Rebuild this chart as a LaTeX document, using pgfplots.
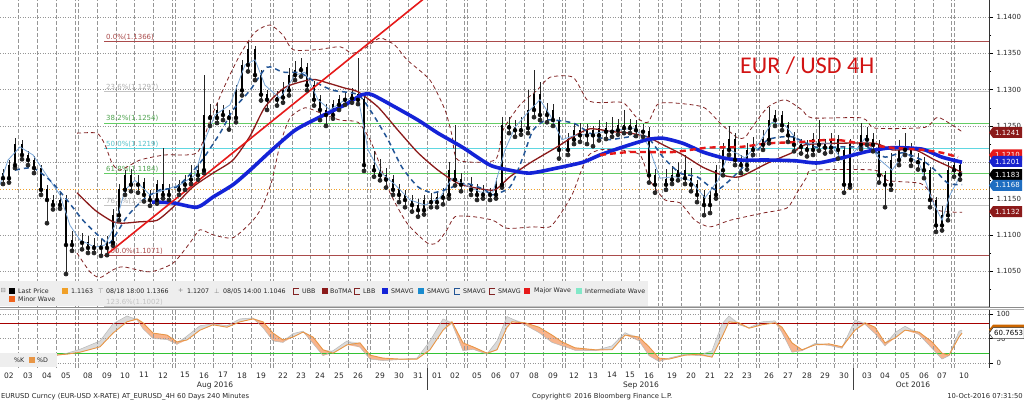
\documentclass[border=0pt]{standalone}
\usepackage{pgfplots}
\pgfplotsset{compat=1.18}
\usepackage{pgfplotstable}
\usepackage{fontspec}
\setmainfont{DejaVu Sans}
\newfontfamily\titlefont{Carlito}

\definecolor{bbdarkred}{RGB}{139,26,26}
\definecolor{bbband}{RGB}{130,35,35}
\definecolor{bbblue}{RGB}{20,35,215}
\definecolor{bbdashblue}{RGB}{35,85,150}
\definecolor{bbthin}{RGB}{120,165,215}
\definecolor{bbred}{RGB}{230,25,25}
\definecolor{fibred}{RGB}{170,75,75}
\definecolor{fibgray}{RGB}{195,195,195}
\definecolor{fibgreen}{RGB}{100,205,100}
\definecolor{fibcyan}{RGB}{95,215,225}
\definecolor{lastorange}{RGB}{240,160,40}
\definecolor{stochD}{RGB}{232,150,70}
\definecolor{stochK}{RGB}{185,185,185}
\definecolor{stochfill}{RGB}{248,180,140}
\definecolor{stochgray}{RGB}{218,218,218}
\definecolor{legbg}{RGB}{238,238,238}
\definecolor{gridgray}{RGB}{150,150,150}
\definecolor{lblblue}{RGB}{31,110,193}
\definecolor{tagblue}{RGB}{25,35,205}
\definecolor{titlered}{RGB}{210,20,20}
\definecolor{mint}{RGB}{130,232,200}
\definecolor{minororange}{RGB}{240,100,30}

% ---------------- data ----------------
\pgfplotstableread{
x o h l c
3 1.1185 1.1190 1.1170 1.1178
9 1.1178 1.1203 1.1172 1.1196
15 1.1196 1.1233 1.1192 1.1224
22 1.1224 1.1230 1.1204 1.1210
28 1.1210 1.1215 1.1196 1.1203
34 1.1203 1.1208 1.1185 1.1192
41 1.1192 1.1196 1.1155 1.1162
47 1.1162 1.1168 1.1116 1.1148
53 1.1148 1.1155 1.1135 1.1141
60 1.1141 1.1158 1.1136 1.1148
66 1.1148 1.1155 1.1046 1.1086
72 1.1086 1.1105 1.1078 1.1093
82 1.1093 1.1103 1.1080 1.1089
88 1.1089 1.1098 1.1075 1.1082
94 1.1082 1.1096 1.1075 1.1086
101 1.1086 1.1094 1.1071 1.1082
107 1.1082 1.1098 1.1072 1.1089
113 1.1089 1.1135 1.1085 1.1127
119 1.1127 1.1170 1.1120 1.1162
125 1.1162 1.1189 1.1155 1.1182
131 1.1182 1.1190 1.1160 1.1169
138 1.1169 1.1182 1.1158 1.1172
144 1.1172 1.1178 1.1146 1.1155
150 1.1155 1.1162 1.1140 1.1148
157 1.1148 1.1176 1.1143 1.1169
163 1.1169 1.1220 1.1150 1.1155
169 1.1155 1.1170 1.1148 1.1162
179 1.1162 1.1176 1.1155 1.1169
185 1.1169 1.1183 1.1162 1.1176
191 1.1176 1.1196 1.1170 1.1182
198 1.1182 1.1200 1.1176 1.1189
204 1.1189 1.1320 1.1185 1.1265
210 1.1265 1.1280 1.1250 1.1261
217 1.1261 1.1282 1.1254 1.1272
223 1.1272 1.1279 1.1258 1.1265
229 1.1265 1.1272 1.1245 1.1261
236 1.1261 1.1306 1.1255 1.1299
242 1.1299 1.1341 1.1292 1.1334
248 1.1334 1.1366 1.1325 1.1355
255 1.1355 1.1360 1.1313 1.1320
261 1.1320 1.1327 1.1285 1.1293
267 1.1293 1.1300 1.1272 1.1286
277 1.1286 1.1298 1.1278 1.1289
283 1.1289 1.1310 1.1282 1.1299
289 1.1299 1.1330 1.1292 1.1320
295 1.1320 1.1340 1.1313 1.1327
301 1.1327 1.1343 1.1318 1.1330
307 1.1330 1.1337 1.1299 1.1306
314 1.1306 1.1312 1.1278 1.1286
320 1.1286 1.1292 1.1258 1.1272
326 1.1272 1.1280 1.1250 1.1265
333 1.1265 1.1286 1.1260 1.1279
339 1.1279 1.1293 1.1272 1.1286
345 1.1286 1.1297 1.1279 1.1288
352 1.1288 1.1302 1.1282 1.1293
358 1.1293 1.1343 1.1280 1.1286
364 1.1286 1.1290 1.1188 1.1196
374 1.1196 1.1215 1.1180 1.1189
380 1.1189 1.1205 1.1175 1.1182
386 1.1182 1.1192 1.1165 1.1176
393 1.1176 1.1183 1.1155 1.1162
399 1.1162 1.1170 1.1145 1.1155
405 1.1155 1.1162 1.1138 1.1148
412 1.1148 1.1155 1.1132 1.1141
418 1.1141 1.1150 1.1125 1.1134
424 1.1134 1.1155 1.1128 1.1148
431 1.1148 1.1158 1.1138 1.1145
437 1.1145 1.1160 1.1138 1.1151
443 1.1151 1.1165 1.1142 1.1155
449 1.1155 1.1200 1.1150 1.1189
455 1.1189 1.1251 1.1168 1.1176
461 1.1176 1.1185 1.1160 1.1169
471 1.1169 1.1180 1.1155 1.1162
477 1.1162 1.1170 1.1148 1.1155
483 1.1155 1.1168 1.1150 1.1159
490 1.1159 1.1165 1.1148 1.1155
496 1.1155 1.1178 1.1150 1.1169
502 1.1169 1.1262 1.1165 1.1251
509 1.1251 1.1262 1.1240 1.1248
515 1.1248 1.1258 1.1235 1.1244
521 1.1244 1.1262 1.1238 1.1247
528 1.1247 1.1300 1.1240 1.1272
534 1.1272 1.1327 1.1262 1.1293
540 1.1293 1.1310 1.1258 1.1265
547 1.1265 1.1282 1.1255 1.1272
553 1.1272 1.1280 1.1250 1.1258
559 1.1258 1.1262 1.1205 1.1217
568 1.1217 1.1240 1.1210 1.1231
574 1.1231 1.1252 1.1225 1.1244
580 1.1244 1.1254 1.1228 1.1237
587 1.1237 1.1252 1.1225 1.1244
593 1.1244 1.1250 1.1222 1.1237
599 1.1237 1.1258 1.1230 1.1247
606 1.1247 1.1255 1.1232 1.1242
612 1.1242 1.1262 1.1235 1.1244
618 1.1244 1.1260 1.1238 1.1251
624 1.1251 1.1272 1.1240 1.1247
630 1.1247 1.1260 1.1240 1.1251
636 1.1251 1.1258 1.1236 1.1244
643 1.1244 1.1252 1.1235 1.1242
649 1.1242 1.1248 1.1172 1.1182
655 1.1182 1.1190 1.1158 1.1169
666 1.1169 1.1190 1.1162 1.1176
672 1.1176 1.1195 1.1170 1.1182
678 1.1182 1.1200 1.1175 1.1189
685 1.1189 1.1210 1.1170 1.1178
691 1.1178 1.1192 1.1160 1.1169
697 1.1169 1.1175 1.1145 1.1155
704 1.1155 1.1162 1.1127 1.1141
710 1.1141 1.1162 1.1130 1.1155
716 1.1155 1.1196 1.1150 1.1189
723 1.1189 1.1226 1.1182 1.1217
729 1.1217 1.1250 1.1210 1.1231
735 1.1231 1.1240 1.1196 1.1203
741 1.1203 1.1210 1.1185 1.1196
747 1.1196 1.1226 1.1190 1.1217
753 1.1217 1.1235 1.1210 1.1224
763 1.1224 1.1245 1.1217 1.1231
769 1.1231 1.1276 1.1226 1.1258
775 1.1258 1.1272 1.1250 1.1265
782 1.1265 1.1270 1.1244 1.1251
788 1.1251 1.1256 1.1228 1.1237
794 1.1237 1.1242 1.1215 1.1224
801 1.1224 1.1232 1.1212 1.1221
807 1.1221 1.1230 1.1208 1.1217
813 1.1217 1.1240 1.1210 1.1231
819 1.1231 1.1258 1.1216 1.1224
825 1.1224 1.1232 1.1212 1.1220
831 1.1220 1.1240 1.1214 1.1231
838 1.1231 1.1238 1.1205 1.1217
844 1.1217 1.1222 1.1158 1.1169
850 1.1169 1.1232 1.1165 1.1224
861 1.1224 1.1254 1.1218 1.1237
867 1.1237 1.1248 1.1224 1.1231
873 1.1231 1.1240 1.1215 1.1224
879 1.1224 1.1230 1.1172 1.1182
885 1.1182 1.1188 1.1138 1.1169
891 1.1169 1.1212 1.1162 1.1203
899 1.1203 1.1230 1.1196 1.1217
905 1.1217 1.1240 1.1210 1.1220
911 1.1220 1.1226 1.1195 1.1203
918 1.1203 1.1212 1.1190 1.1200
924 1.1200 1.1207 1.1178 1.1189
930 1.1189 1.1194 1.1138 1.1148
936 1.1148 1.1152 1.1104 1.1113
942 1.1113 1.1140 1.1106 1.1127
948 1.1127 1.1200 1.1120 1.1189
954 1.1189 1.1206 1.1180 1.1196
960 1.1196 1.1203 1.1176 1.1183
}\candles

\pgfplotstableread{
x y
0 1.1169
8 1.1203
20 1.1221
33 1.1210
50 1.1175
60 1.1155
70 1.1113
80 1.1093
95 1.1083
105 1.1086
115 1.1113
125 1.1162
135 1.1175
150 1.1155
165 1.1162
180 1.1169
195 1.1182
205 1.1231
215 1.1265
230 1.1279
245 1.1334
255 1.1341
265 1.1306
280 1.1288
295 1.1320
305 1.1324
318 1.1286
330 1.1272
345 1.1286
358 1.1290
368 1.1217
380 1.1187
395 1.1169
410 1.1148
425 1.1141
440 1.1151
452 1.1178
465 1.1169
480 1.1159
493 1.1159
505 1.1217
515 1.1248
530 1.1272
540 1.1286
550 1.1265
562 1.1231
575 1.1237
595 1.1240
615 1.1244
635 1.1247
648 1.1224
660 1.1178
675 1.1180
690 1.1175
705 1.1151
718 1.1175
730 1.1217
745 1.1206
760 1.1228
772 1.1255
785 1.1251
800 1.1226
815 1.1226
830 1.1226
842 1.1203
852 1.1210
865 1.1233
880 1.1203
892 1.1189
905 1.1214
920 1.1196
932 1.1148
942 1.1120
950 1.1155
962 1.1186
}\smathin

\pgfplotstableread{
x y
15 1.1189
33 1.1192
50 1.1175
67 1.1148
83 1.1120
100 1.1097
110 1.1089
127 1.1125
143 1.1148
160 1.1162
177 1.1166
200 1.1199
220 1.1240
233 1.1272
250 1.1299
267 1.1331
283 1.1324
300 1.1323
317 1.1309
333 1.1299
358 1.1293
372 1.1268
388 1.1231
402 1.1193
418 1.1166
432 1.1158
445 1.1162
465 1.1171
485 1.1162
492 1.1155
510 1.1166
523 1.1207
533 1.1244
547 1.1258
573 1.1254
590 1.1240
607 1.1231
630 1.1235
647 1.1235
663 1.1207
680 1.1185
697 1.1180
717 1.1162
740 1.1189
752 1.1207
768 1.1231
792 1.1235
815 1.1221
842 1.1221
868 1.1220
885 1.1207
902 1.1213
922 1.1203
935 1.1189
948 1.1171
962 1.1169
}\smadash

\pgfplotstableread{
x y
152 1.1145
173 1.1144
197 1.1138
213 1.1152
233 1.1169
250 1.1189
272 1.1217
295 1.1244
318 1.1261
345 1.1279
362 1.1293
372 1.1293
395 1.1276
418 1.1258
438 1.1240
462 1.1221
490 1.1196
510 1.1189
530 1.1185
557 1.1192
583 1.1200
600 1.1210
623 1.1221
647 1.1231
663 1.1233
683 1.1226
703 1.1214
723 1.1206
740 1.1203
768 1.1203
795 1.1202
818 1.1199
845 1.1207
868 1.1215
892 1.1220
922 1.1218
942 1.1207
962 1.1200
}\smathick

\pgfplotstableread{
x y
77 1.1158
95 1.1134
113 1.1118
123 1.1116
140 1.1118
157 1.1120
173 1.1138
193 1.1166
213 1.1185
233 1.1203
250 1.1236
265 1.1276
285 1.1303
312 1.1314
328 1.1309
345 1.1302
358 1.1297
378 1.1276
398 1.1244
418 1.1213
438 1.1189
458 1.1171
478 1.1164
495 1.1162
510 1.1180
530 1.1199
557 1.1221
573 1.1235
590 1.1246
613 1.1242
630 1.1240
647 1.1235
663 1.1224
683 1.1210
703 1.1193
723 1.1182
740 1.1180
768 1.1199
792 1.1213
805 1.1224
835 1.1226
875 1.1226
892 1.1217
915 1.1217
935 1.1203
962 1.1186
}\botma

\pgfplotstableread{
x y
77 1.1240
97 1.1240
105 1.1224
112 1.1199
120 1.1189
140 1.1203
165 1.1210
197 1.1213
210 1.1258
225 1.1306
240 1.1348
255 1.1379
270 1.1389
283 1.1375
293 1.1355
317 1.1355
340 1.1359
352 1.1350
365 1.1357
380 1.1371
395 1.1361
407 1.1341
430 1.1313
445 1.1272
452 1.1237
458 1.1203
495 1.1203
503 1.1244
520 1.1279
537 1.1299
550 1.1317
573 1.1317
587 1.1286
600 1.1282
623 1.1282
637 1.1261
648 1.1255
657 1.1279
670 1.1282
703 1.1276
720 1.1254
737 1.1234
745 1.1234
752 1.1248
768 1.1276
785 1.1286
802 1.1272
812 1.1261
862 1.1261
875 1.1247
925 1.1248
938 1.1262
962 1.1242
}\ubb

\pgfplotstableread{
x y
77 1.1075
90 1.1049
100 1.1041
112 1.1051
123 1.1056
150 1.1049
173 1.1061
190 1.1089
200 1.1107
213 1.1100
233 1.1096
253 1.1120
263 1.1141
272 1.1175
280 1.1224
290 1.1261
305 1.1275
320 1.1268
340 1.1258
358 1.1255
370 1.1231
380 1.1196
390 1.1158
407 1.1116
427 1.1089
437 1.1089
447 1.1107
455 1.1125
473 1.1125
493 1.1120
507 1.1109
533 1.1111
550 1.1111
563 1.1134
573 1.1158
587 1.1207
600 1.1217
620 1.1217
640 1.1210
650 1.1175
665 1.1148
680 1.1144
695 1.1120
710 1.1111
730 1.1120
763 1.1130
787 1.1137
797 1.1158
807 1.1180
813 1.1189
875 1.1189
887 1.1175
920 1.1171
930 1.1158
938 1.1134
962 1.1131
}\lbb

\pgfplotstableread{
x y
600 1.1210
630 1.1214
673 1.1214
707 1.1220
740 1.1221
768 1.1226
802 1.1228
835 1.1231
868 1.1224
892 1.1220
922 1.1217
942 1.1213
958 1.1207
}\smared

% stochastic: K, D, lower of the two (M), D above K (A), K above D (B)
\pgfplotstableread{
x K D M A B
53 14 16 14 2 0
67 20 18 18 0 2
80 28 22 22 0 6
100 45 33 33 0 12
113 80 61 61 0 19
127 96 84 84 0 12
137 88 90 88 2 0
143 70 82 70 12 0
153 50 61 50 11 0
167 48 57 48 9 0
177 38 43 38 5 0
187 55 47 47 0 8
200 76 67 67 0 9
213 80 78 78 0 2
227 76 73 73 0 3
240 90 84 84 0 6
253 92 90 90 0 2
263 72 84 72 12 0
273 45 61 45 16 0
283 42 47 42 5 0
293 60 53 53 0 7
303 65 63 63 0 2
313 40 53 40 13 0
323 15 27 15 12 0
333 25 20 20 0 5
347 45 37 37 0 8
360 32 41 32 9 0
370 8 16 8 8 0
383 5 10 5 5 0
400 7 8 7 1 0
417 10 8 8 0 2
430 45 27 27 0 18
443 90 67 67 0 23
452 80 84 80 4 0
463 25 41 25 16 0
473 28 33 28 5 0
487 18 20 18 2 0
497 45 27 27 0 18
507 95 73 73 0 22
512 90 84 84 0 6
525 78 82 78 4 0
539 62 73 62 11 0
552 42 57 42 15 0
562 35 43 35 8 0
575 26 31 26 5 0
595 25 27 25 2 0
612 35 27 27 0 8
625 62 57 57 0 5
639 45 53 45 8 0
649 15 33 15 18 0
659 3 10 3 7 0
669 10 8 8 0 2
685 18 16 16 0 2
699 15 18 15 3 0
712 25 12 12 0 13
722 80 53 53 0 27
729 96 84 84 0 12
739 78 82 78 4 0
749 72 71 71 0 1
762 84 78 78 0 6
775 86 82 82 0 4
782 62 73 62 11 0
792 22 41 22 19 0
802 25 27 25 2 0
815 40 37 37 0 3
829 36 39 36 3 0
842 30 33 30 3 0
855 88 67 67 0 21
865 79 82 79 3 0
875 60 73 60 13 0
885 35 41 35 6 0
895 62 51 51 0 11
905 75 67 67 0 8
919 58 63 58 5 0
932 30 43 30 13 0
942 8 20 8 12 0
949 15 16 15 1 0
959 65 53 53 0 12
962 67 61 61 0 6
}\stoch

\newcommand{\pricetag}[4]{%
  \fill[#2] (#1) -- ++(4,5.5) -- ++(29,0) -- ++(0,-11) -- ++(-29,0) -- cycle;
  \node[anchor=west, inner sep=0pt, text=#3, font=\fontsize{7}{8}\selectfont] at ([xshift=6pt]#1) {#4};}

\begin{document}
\begin{tikzpicture}[x=1pt,y=1pt]
\useasboundingbox (0,0) rectangle (1024,401);
\fill[white] (0,0) rectangle (1024,401);

% ================= main price panel =================
\begin{axis}[
  at={(0pt,94pt)}, anchor=south west, scale only axis,
  width=989pt, height=307pt,
  xmin=0, xmax=989, ymin=1.10006, ymax=1.14234,
  axis y line*=right, axis x line*=bottom,
  x axis line style={draw=none},
  y axis line style={black!80, line width=0.6pt},
  xtick={18.5,37.5,56.5,75.5,78.5,97.5,116,134.5,153.5,172.5,175.5,194.5,213.5,232.5,251.5,270.5,273.5,292,310.5,329.5,348.5,367.5,370.5,389.5,408.5,427.5,446,464.5,467.5,486.5,505.5,524.5,543.5,562.5,565.5,583.5,602.5,621,639.5,658.5,662.5,681.5,700.5,719.5,738,756.5,759.5,778.5,797.5,816,834.5,853.5,857.5,876,895,914.5,933,951.5,954.5},
  xticklabels={},
  xmajorgrids,
  major x tick style={draw=none},
  x grid style={gridgray, line width=0.5pt, dash pattern=on 3.5pt off 2.5pt},
  ytick={1.105,1.11,1.115,1.12,1.125,1.13,1.135,1.14},
  yticklabels={1.1050,1.1100,1.1150,1.1200,1.1250,1.1300,1.1350,1.1400},
  minor ytick={1.1025,1.1075,1.1125,1.1175,1.1225,1.1275,1.1325,1.1375},
  ymajorgrids,
  y grid style={gridgray, line width=0.5pt, dotted},
  tick align=outside, major tick length=4pt, minor tick length=2pt,
  ytick style={black, line width=0.5pt},
  yticklabel style={font=\fontsize{7}{8}\selectfont, text=black!85},
]
% Fibonacci levels
\addplot[fibred, line width=0.8pt] coordinates {(104,1.1366) (989,1.1366)};
\addplot[fibgray, line width=0.8pt] coordinates {(104,1.1297) (989,1.1297)};
\addplot[fibgreen, line width=0.8pt] coordinates {(104,1.1254) (989,1.1254)};
\addplot[fibcyan, line width=1.0pt] coordinates {(104,1.1219) (989,1.1219)};
\addplot[fibgreen, line width=0.8pt] coordinates {(104,1.1184) (989,1.1184)};
\addplot[fibgray, line width=0.8pt] coordinates {(104,1.1140) (989,1.1140)};
\addplot[fibred, line width=0.8pt] coordinates {(104,1.1071) (989,1.1071)};
\addplot[fibgray, line width=0.8pt] coordinates {(104,1.1002) (989,1.1002)};
\addplot[lastorange, line width=0.9pt, dotted] coordinates {(0,1.1163) (989,1.1163)};

\node[anchor=south west, inner sep=1pt, text=fibred, font=\fontsize{7}{8}\selectfont] at (axis cs:105,1.1366) {0.0\%(1.1366)};
\node[anchor=south west, inner sep=1pt, text=fibgray!90!black, font=\fontsize{7}{8}\selectfont] at (axis cs:105,1.1297) {23.6\%(1.1297)};
\node[anchor=south west, inner sep=1pt, text=fibgreen!80!black, font=\fontsize{7}{8}\selectfont] at (axis cs:105,1.1254) {38.2\%(1.1254)};
\node[anchor=south west, inner sep=1pt, text=fibcyan!90!black, font=\fontsize{7}{8}\selectfont] at (axis cs:105,1.1219) {50.0\%(1.1219)};
\node[anchor=south west, inner sep=1pt, text=fibgreen!80!black, font=\fontsize{7}{8}\selectfont] at (axis cs:105,1.1184) {61.8\%(1.1184)};
\node[anchor=south west, inner sep=1pt, text=fibgray!90!black, font=\fontsize{7}{8}\selectfont] at (axis cs:105,1.1140) {76.4\%(1.1140)};
\node[anchor=south west, inner sep=1pt, text=fibred, font=\fontsize{7}{8}\selectfont] at (axis cs:105,1.1071) {100.0\%(1.1071)};

% Bollinger bands
\addplot[bbband, line width=0.8pt, dash pattern=on 4pt off 3pt, smooth, tension=0.4] table {\ubb};
\addplot[bbband, line width=0.8pt, dash pattern=on 4pt off 3pt, smooth, tension=0.4] table {\lbb};

% candles: wicks and bodies
\addplot[black!85, line width=0.7pt, mark=none, only marks, forget plot,
  error bars/.cd, y dir=plus, y explicit, error mark=none,
  error bar style={draw=black!85, line width=0.7pt, solid}]
  table[x=x, y=l, y error plus expr=\thisrow{h}-\thisrow{l}] {\candles};
\addplot[black, mark=none, only marks, forget plot,
  error bars/.cd, y dir=plus, y explicit, error mark=none,
  error bar style={draw=black, line width=2.2pt, solid}]
  table[x=x, y expr={min(\thisrow{o},\thisrow{c})}, y error plus expr={abs(\thisrow{c}-\thisrow{o})+0.00005}] {\candles};

% moving averages
\addplot[bbdarkred, line width=1.3pt, smooth, tension=0.4] table {\botma};
\addplot[bbthin, line width=0.8pt] table {\smathin};
\addplot[bbdashblue, line width=1.5pt, dash pattern=on 5pt off 4pt, smooth, tension=0.4] table {\smadash};
\addplot[bbblue, line width=3.6pt, smooth, tension=0.4] table {\smathick};
\addplot[bbred, line width=2.4pt, dash pattern=on 6pt off 4pt, smooth, tension=0.4] table {\smared};
% trend line
\addplot[bbred, line width=1.6pt] coordinates {(105,1.1071) (430,1.1432)};

\coordinate (T1) at (axis cs:989,1.1241);
\coordinate (T2) at (axis cs:989,1.1210);
\coordinate (T3) at (axis cs:989,1.1201);
\coordinate (T4) at (axis cs:989,1.1183);
\coordinate (T5) at (axis cs:989,1.1168);
\coordinate (T6) at (axis cs:989,1.1132);
\end{axis}

% ================= stochastic fills (stacked areas) =================
\begin{axis}[
  at={(0pt,33pt)}, anchor=south west, scale only axis,
  width=989pt, height=59pt,
  xmin=0, xmax=989, ymin=-10.2, ymax=110.2,
  hide axis, stack plots=y,
]
\addplot[draw=none, mark=none] table[x=x, y=M] {\stoch};
\addplot[draw=none, fill=stochfill, mark=none] table[x=x, y=A] {\stoch} \closedcycle;
\addplot[draw=none, fill=stochgray, mark=none] table[x=x, y=B] {\stoch} \closedcycle;
\end{axis}

% ================= stochastic panel =================
\begin{axis}[
  at={(0pt,33pt)}, anchor=south west, scale only axis,
  width=989pt, height=59pt,
  xmin=0, xmax=989, ymin=-10.2, ymax=110.2,
  axis y line*=right, axis x line*=bottom,
  x axis line style={draw=none},
  y axis line style={black!80, line width=0.6pt},
  xtick={18.5,37.5,56.5,75.5,78.5,97.5,116,134.5,153.5,172.5,175.5,194.5,213.5,232.5,251.5,270.5,273.5,292,310.5,329.5,348.5,367.5,370.5,389.5,408.5,427.5,446,464.5,467.5,486.5,505.5,524.5,543.5,562.5,565.5,583.5,602.5,621,639.5,658.5,662.5,681.5,700.5,719.5,738,756.5,759.5,778.5,797.5,816,834.5,853.5,857.5,876,895,914.5,933,951.5,954.5},
  xticklabels={},
  xmajorgrids,
  major x tick style={draw=none},
  x grid style={gridgray, line width=0.5pt, dash pattern=on 3.5pt off 2.5pt},
  extra x ticks={9,28,47,66,88,107,125,144,163,185,204,223,242,261,283,301,320,339,358,380,399,418,437,455,477,496,515,534,553,574,593,612,630,649,672,691,710,729,747,769,788,807,825,844,867,885,905,924,942,964},
  extra x tick labels={02,03,04,05,08,09,10,11,12,15,16,17,18,19,22,23,24,25,26,29,30,31,01,02,05,06,07,08,09,12,13,14,15,16,19,20,21,22,23,26,27,28,29,30,03,04,05,06,07,10},
  extra x tick style={grid=none, major tick length=0pt, tick label style={font=\fontsize{7.5}{9}\selectfont, text=black!85, yshift=-1pt}},
  ytick={0,50,100}, yticklabels={0,50,100},
  ymajorgrids,
  y grid style={gridgray, line width=0.5pt, dotted},
  tick align=outside, major tick length=4pt,
  ytick style={black, line width=0.5pt},
  yticklabel style={font=\fontsize{7}{8}\selectfont, text=black!85},
]
\addplot[red!65!black, line width=0.8pt] coordinates {(0,80) (989,80)};
\addplot[green!70!black!80, line width=0.8pt] coordinates {(0,20) (989,20)};
\addplot[stochK, line width=0.5pt] table[x=x, y=K] {\stoch};
\addplot[stochD, line width=0.9pt] table[x=x, y=D] {\stoch};
\coordinate (S1) at (axis cs:989,68);
\coordinate (S2) at (axis cs:989,60.77);
\end{axis}

% ---------- price tags ----------
\pricetag{T1}{bbdarkred}{white}{1.1241}
\pricetag{T2}{bbred}{white}{1.1210}
\pricetag{T3}{tagblue}{white}{1.1201}
\pricetag{T4}{black}{white}{1.1183}
\pricetag{T5}{lblblue}{white}{1.1168}
\pricetag{T6}{bbdarkred}{white}{1.1132}
\fill[orange!80!black] (S1) -- ++(4,5) -- ++(31,0) -- ++(0,-10) -- ++(-31,0) -- cycle;
\filldraw[fill=white, draw=black!80, line width=0.5pt] (S2) -- ++(4,5.5) -- ++(31,0) -- ++(0,-11) -- ++(-31,0) -- cycle;
\node[anchor=west, inner sep=0pt, font=\fontsize{7}{8}\selectfont] at ([xshift=5pt]S2) {60.7653};

% ---------- panel separator ----------
\draw[black!45, line width=1.2pt] (0,93.2) -- (1024,93.2);
\draw[black!30, line width=0.8pt] (0,91.2) -- (1024,91.2);

% ---------- title ----------
\node[anchor=base west, inner sep=0pt, text=titlered, font=\titlefont\fontsize{24}{26}\selectfont] at (740,327) {EUR / USD 4H};

% ---------- legend ----------
\fill[legbg] (0,94.5) rectangle (648,120);
\node[anchor=west, inner sep=0pt, text=fibgray, font=\fontsize{7}{8}\selectfont] at (106,99) {123.6\%(1.1002)};
\begin{scope}[font=\fontsize{6.3}{7}\selectfont, every node/.style={anchor=west, inner sep=0pt, text=black!85}]
\node[text=gray] at (0.5,110) {⊟};
\fill[black] (9,107) rectangle (15,113); \node at (18,110) {Last Price};
\fill[lastorange] (62,107) rectangle (68,113); \node at (71,110) {1.1163};
\node[text=gray] at (98,110) {⊤}; \node at (106,110) {08/18 18:00 1.1366};
\node[text=gray] at (178,110) {+}; \node at (187,110) {1.1207};
\node[text=gray] at (214,110) {⊥}; \node at (223,110) {08/05 14:00 1.1046};
\draw[bbband, line width=0.8pt] (299,113) -- (293,113) -- (293,107) -- (299,107);
\node at (302,110) {UBB};
\fill[bbdarkred] (322,107) rectangle (328,113); \node at (330,110) {BoTMA};
\draw[bbband, line width=0.8pt] (360,113) -- (354,113) -- (354,107) -- (360,107);
\node at (363,110) {LBB};
\fill[bbblue] (382,107) rectangle (388,113); \node at (391,110) {SMAVG};
\fill[lblblue!80!cyan] (418,107) rectangle (424,113); \node at (427,110) {SMAVG};
\draw[bbdashblue, line width=0.8pt] (460,113) -- (454,113) -- (454,107) -- (460,107);
\node at (463,110) {SMAVG};
\draw[bbband, line width=0.8pt] (495,113) -- (489,113) -- (489,107) -- (495,107);
\node at (498,110) {SMAVG};
\fill[bbred] (524,107) rectangle (530,113); \node at (534,110) {Major Wave};
\fill[mint] (576,107) rectangle (582,113); \node at (585,110) {Intermediate Wave};
\fill[minororange] (9,99) rectangle (15,105); \node at (18,101.5) {Minor Wave};
\end{scope}

% ---------- stochastic legend ----------
\fill[legbg] (0,34) rectangle (57,48);
\begin{scope}[font=\fontsize{6.3}{7}\selectfont, every node/.style={anchor=west, inner sep=0pt, text=black!85}]
\node at (14,41) {\%K};
\fill[stochD] (29,38) rectangle (35,44);
\node at (37,41) {\%D};
\end{scope}

% ---------- month labels and separators ----------
\draw[black!75, line width=0.8pt] (427.5,11) -- (427.5,33);
\draw[black!75, line width=0.8pt] (853.5,11) -- (853.5,33);
\node[font=\fontsize{7.5}{9}\selectfont, text=black!85] at (215,16) {Aug 2016};
\node[font=\fontsize{7.5}{9}\selectfont, text=black!85] at (641,16) {Sep 2016};
\node[font=\fontsize{7.5}{9}\selectfont, text=black!85] at (913,16) {Oct 2016};

% ---------- footer ----------
\node[anchor=west, inner sep=0pt, font=\fontsize{6.8}{8}\selectfont, text=black!85] at (1,4.5) {EURUSD Curncy (EUR-USD X-RATE) AT\_EURUSD\_4H 60 Days 240 Minutes};
\node[anchor=west, inner sep=0pt, font=\fontsize{6.8}{8}\selectfont, text=black!85] at (532,4.5) {Copyright© 2016 Bloomberg Finance L.P.};
\node[anchor=east, inner sep=0pt, font=\fontsize{6.8}{8}\selectfont, text=black!85] at (1023,4.5) {10-Oct-2016 07:31:50};
\end{tikzpicture}
\end{document}
